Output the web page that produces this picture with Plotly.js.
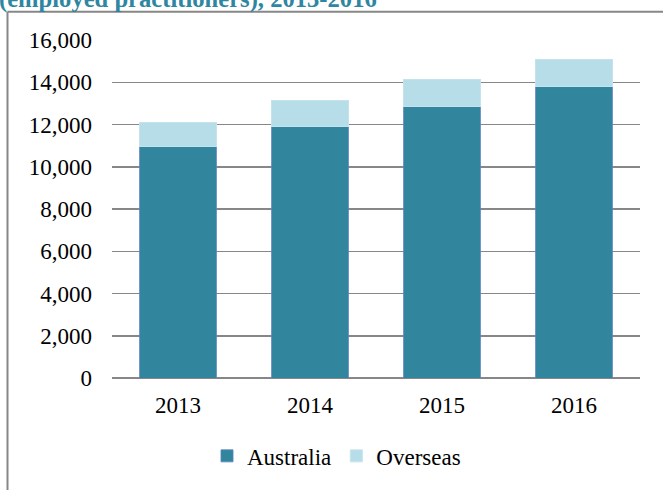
<!DOCTYPE html>
<html>
<head>
<meta charset="utf-8">
<script src="https://cdn.plot.ly/plotly-3.0.1.min.js"></script>
<style>
html,body{margin:0;padding:0;background:#fff;}
#chart{width:663px;height:490px;}
</style>
</head>
<body>
<div id="chart"></div>
<script>
var years = ['2013', '2014', '2015', '2016'];
var australia = [10950, 11920, 12870, 13820];
var overseas = [1130, 1230, 1250, 1270];
var seriesNames = ['Australia', 'Overseas'];
var yTicks = [0, 2000, 4000, 6000, 8000, 10000, 12000, 14000, 16000];
var titleText = '(employed practitioners), 2013-2016';

var W = 663, H = 490;
var mL = 112, mR = 23, mT = 40, mB = 110;
var pw = W - mL - mR, ph = H - mT - mB;
function px(x){ return (x - mL) / pw; }
function py(y){ return (H - mB - y) / ph; }

var serif = '"Liberation Serif", "Times New Roman", serif';

var traces = [
  {type:'bar', name: seriesNames[0], x: years, y: australia,
   marker:{color:'#31859c', line:{color:'rgba(90,130,195,0.85)', width:1}}},
  {type:'bar', name: seriesNames[1], x: years, y: overseas,
   marker:{color:'#b7dde8', line:{color:'#c4e4ed', width:1}}}
];

var layout = {
  width: W, height: H,
  margin:{l:mL, r:mR, t:mT, b:mB, pad:0},
  paper_bgcolor:'#ffffff', plot_bgcolor:'#ffffff',
  font:{family: serif, size:23, color:'#000000'},
  barmode:'stack',
  bargap:0.417,
  showlegend:true,
  legend:{orientation:'h', x: px(207), xanchor:'left', y: py(480), yanchor:'bottom',
          traceorder:'normal', font:{family: serif, size:23, color:'#000'},
          itemclick:false, itemdoubleclick:false, bgcolor:'rgba(0,0,0,0)'},
  xaxis:{type:'category', showgrid:false, zeroline:false, showline:false,
         ticks:'', tickfont:{family: serif, size:23, color:'#000'}, ticklabelstandoff:11,
         fixedrange:true},
  yaxis:{range:[0,16000], tickvals: yTicks, tickformat:',', showgrid:true,
         gridcolor:'#878787', gridwidth:1.5, zeroline:true, zerolinecolor:'#878787',
         zerolinewidth:1.5, showline:false, ticks:'',
         tickfont:{family: serif, size:23, color:'#000'}, ticklabelstandoff:19,
         fixedrange:true},
  annotations:[
    {text:'<b>' + titleText + '</b>', xref:'paper', yref:'paper',
     x: px(-3), xanchor:'left', y: py(15), yanchor:'bottom', showarrow:false,
     font:{family: serif, size:24.6, color:'#2f86a1'}}
  ],
  shapes:[
    {type:'line', xref:'paper', yref:'paper', x0: px(7.5), x1: px(7.5), y0: py(11.5), y1: py(520),
     line:{color:'#878787', width:2}},
    {type:'line', xref:'paper', yref:'paper', x0: px(7.5), x1: px(700), y0: py(11.5), y1: py(11.5),
     line:{color:'#878787', width:2}}
  ]
};

Plotly.newPlot('chart', traces, layout, {displayModeBar:false, staticPlot:true});
</script>
</body>
</html>
